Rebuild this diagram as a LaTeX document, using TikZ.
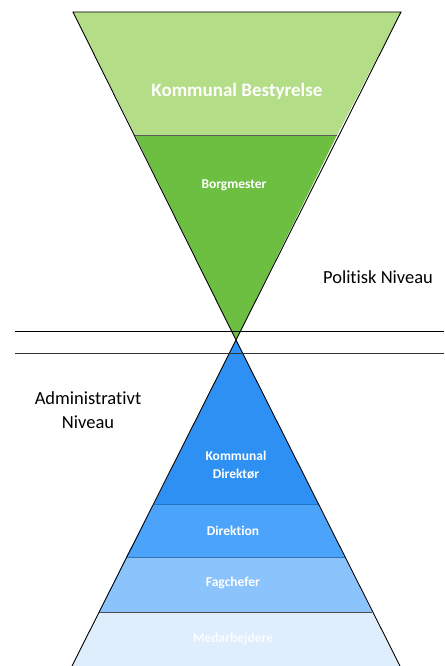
\documentclass[tikz,border=0pt]{standalone}
\usepackage{fontspec}
\setmainfont{Carlito}[Ligatures=NoCommon]
\begin{document}
\begin{tikzpicture}[x=1pt,y=-1pt,
  lbl/.style={font=\bfseries\fontsize{13.5}{18}\selectfont, text=white, align=center},
  plain/.style={font=\fontsize{18.5}{24}\selectfont, text=black, align=center},
  sep/.style={draw=black!65, line width=0.8pt}]
\definecolor{gLight}{HTML}{B3DD86}
\definecolor{gDark}{HTML}{6DBF41}
\definecolor{bOne}{HTML}{2D90F2}
\definecolor{bTwo}{HTML}{4BA3FA}
\definecolor{bThree}{HTML}{8BC3FC}
\definecolor{bFour}{HTML}{DEEEFD}
\clip (0,0) rectangle (444,666);
\useasboundingbox (0,0) rectangle (444,666);
% apex
\coordinate (A) at (236,340);
% top triangle
\fill[gLight] (73,12) -- (401,12) -- (337,135) -- (135,135) -- cycle;
\fill[gDark] (135,135) -- (337,135) -- (A) -- cycle;
\draw[sep] (135,135) -- (337,135);
\draw[black, line width=0.9pt] (73,12) -- (401,12) -- (A) -- cycle;
% bottom triangle
\fill[bOne] (A) -- (318,504) -- (154,504) -- cycle;
\fill[bTwo] (154,504) -- (318,504) -- (345,557) -- (126,557) -- cycle;
\fill[bThree] (126,557) -- (345,557) -- (372,612) -- (99,612) -- cycle;
\fill[bFour] (99,612) -- (372,612) -- (400,668) -- (71,668) -- cycle;
\draw[draw=bOne!80!black, line width=0.6pt] (154,504) -- (318,504);
\draw[draw=bTwo!70!black, line width=1pt] (126,557) -- (345,557);
\draw[draw=black!70, line width=1pt] (99,612) -- (372,612);
\draw[black, line width=0.9pt] (70,670) -- (A) -- (402,670);
% horizontal lines
\draw[black, line width=0.8pt] (15,331) -- (444,331);
\draw[black!80, line width=0.8pt] (15,353) -- (444,353);
% labels
\node[lbl, font=\bfseries\fontsize{19}{23}\selectfont] (kb) at (237,91) {Kommunal Bestyrelse};
\node[lbl] (bm) at (234,185) {Borgmester};
\node[plain] (pn) at (378,277) {Politisk Niveau};
\node[plain] (an) at (88,410) {Administrativt\\Niveau};
\node[lbl] (kd) at (236,465) {Kommunal\\Direktør};
\node[lbl] (dk) at (233,531) {Direktion};
\node[lbl] (fc) at (233,583) {Fagchefer};
\node[lbl, text=white!85!bFour] (md) at (233,639) {Medarbejdere};
\end{tikzpicture}
\end{document}
